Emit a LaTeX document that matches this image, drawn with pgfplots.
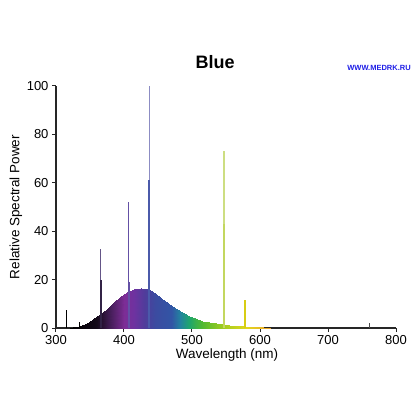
\documentclass[border=0pt]{standalone}
\usepackage{pgfplots}
\pgfplotsset{compat=1.18}
\usepackage{fontspec}
\setmainfont{Liberation Sans}

% spectrum colours, positions are wavelength - 320
\pgfplotsset{
  colormap={spectrum}{
    rgb255(0pt)=(0,0,0)
    rgb255(40pt)=(20,10,25)
    rgb255(60pt)=(70,30,90)
    rgb255(80pt)=(125,45,150)
    rgb255(95pt)=(110,50,160)
    rgb255(110pt)=(80,60,155)
    rgb255(125pt)=(60,75,160)
    rgb255(150pt)=(50,85,165)
    rgb255(162pt)=(35,130,160)
    rgb255(175pt)=(30,165,110)
    rgb255(195pt)=(80,185,50)
    rgb255(225pt)=(160,205,30)
    rgb255(260pt)=(225,215,30)
    rgb255(290pt)=(235,170,40)
    rgb255(320pt)=(235,140,40)
  }
}

\begin{document}
\begin{tikzpicture}
\path[use as bounding box] (-56pt,-92pt) rectangle (364pt,328pt);
\begin{axis}[
    at={(0,0)}, anchor=south west,
    width=340pt, height=242pt, scale only axis,
    xmin=300, xmax=800, ymin=0, ymax=100,
    xtick={300,400,...,800},
    ytick={0,20,...,100},
    axis lines*=left,
    axis line style={line width=1.2pt, black!85},
    tick align=outside,
    major tick length=4pt,
    tick style={line width=1pt, black!85},
    tick label style={font=\fontsize{13}{14}\selectfont},
    /pgf/number format/assume math mode=true,
    title={Blue},
    title style={font=\fontsize{18}{20}\selectfont\bfseries,
        at={(axis description cs:0.468,1.074)}, anchor=center},
    xlabel={Wavelength (nm)},
    xlabel style={font=\fontsize{13.5}{15}\selectfont,
        at={(axis description cs:0.503,-0.112)}, anchor=center},
    ylabel={Relative Spectral Power},
    ylabel style={font=\fontsize{13.5}{15}\selectfont,
        at={(axis description cs:-0.118,0.5)}, anchor=center},
    colormap name=spectrum,
    point meta min=320, point meta max=640,
    clip=false,
]

% continuous emission, filled with a spectrum colormap (bottom row, top row)
\addplot[surf, shader=interp, mesh/rows=2, point meta=x] table {
x y
320 0
325 0
335 0
345 0
355 0
365 0
375 0
385 0
395 0
405 0
415 0
425 0
435 0
445 0
455 0
465 0
475 0
485 0
495 0
505 0
515 0
525 0
535 0
545 0
555 0
565 0
575 0
585 0
595 0
605 0
615 0
630 0
640 0
320 0
325 0.3
335 1.0
345 2.0
355 3.7
365 5.6
375 8.0
385 10.8
395 13.1
405 15.0
415 16.2
425 16.5
435 16.0
445 14.6
455 12.6
465 10.3
475 8.3
485 6.6
495 5.1
505 4.0
515 3.1
525 2.5
535 2.0
545 1.6
555 1.3
565 1.0
575 0.8
585 0.6
595 0.4
605 0.25
615 0.15
630 0.05
640 0
};

% mercury lines
\addplot[ycomb, no marks, line width=1.1pt, black] coordinates {(316,7.5)};
\addplot[ycomb, no marks, line width=0.9pt, black] coordinates {(334,2.5)};
\addplot[ycomb, no marks, line width=1.2pt, color={rgb,255:red,100;green,85;blue,135}] coordinates {(366,32.5)};
\addplot[ycomb, no marks, line width=1.5pt, color={rgb,255:red,50;green,35;blue,70}] coordinates {(366,20)};
\addplot[ycomb, no marks, line width=1.3pt, color={rgb,255:red,100;green,80;blue,165}] coordinates {(407,52)};
\addplot[ycomb, no marks, line width=1.7pt, color={rgb,255:red,100;green,80;blue,165}] coordinates {(407,19)};
\addplot[ycomb, no marks, line width=1.1pt, color={rgb,255:red,140;green,140;blue,195}] coordinates {(437,100)};
\addplot[ycomb, no marks, line width=1.5pt, color={rgb,255:red,75;green,90;blue,170}] coordinates {(437,61)};
\addplot[ycomb, no marks, line width=1.6pt, color={rgb,255:red,75;green,90;blue,170}] coordinates {(437,19)};
\addplot[ycomb, no marks, line width=1.2pt, color={rgb,255:red,205;green,222;blue,130}] coordinates {(547,73)};
\addplot[ycomb, no marks, line width=1.4pt, color={rgb,255:red,195;green,215;blue,95}] coordinates {(547,43)};
\addplot[ycomb, no marks, line width=2pt, color={rgb,255:red,215;green,205;blue,20}] coordinates {(578.5,11.5)};
\addplot[ycomb, no marks, line width=0.7pt, black!70] coordinates {(761,2)};
\end{axis}
\node[font=\fontsize{7.5}{8}\selectfont\bfseries, text={rgb,255:red,30;green,30;blue,230}] at (323pt,260pt) {WWW.MEDRK.RU};
\end{tikzpicture}
\end{document}
